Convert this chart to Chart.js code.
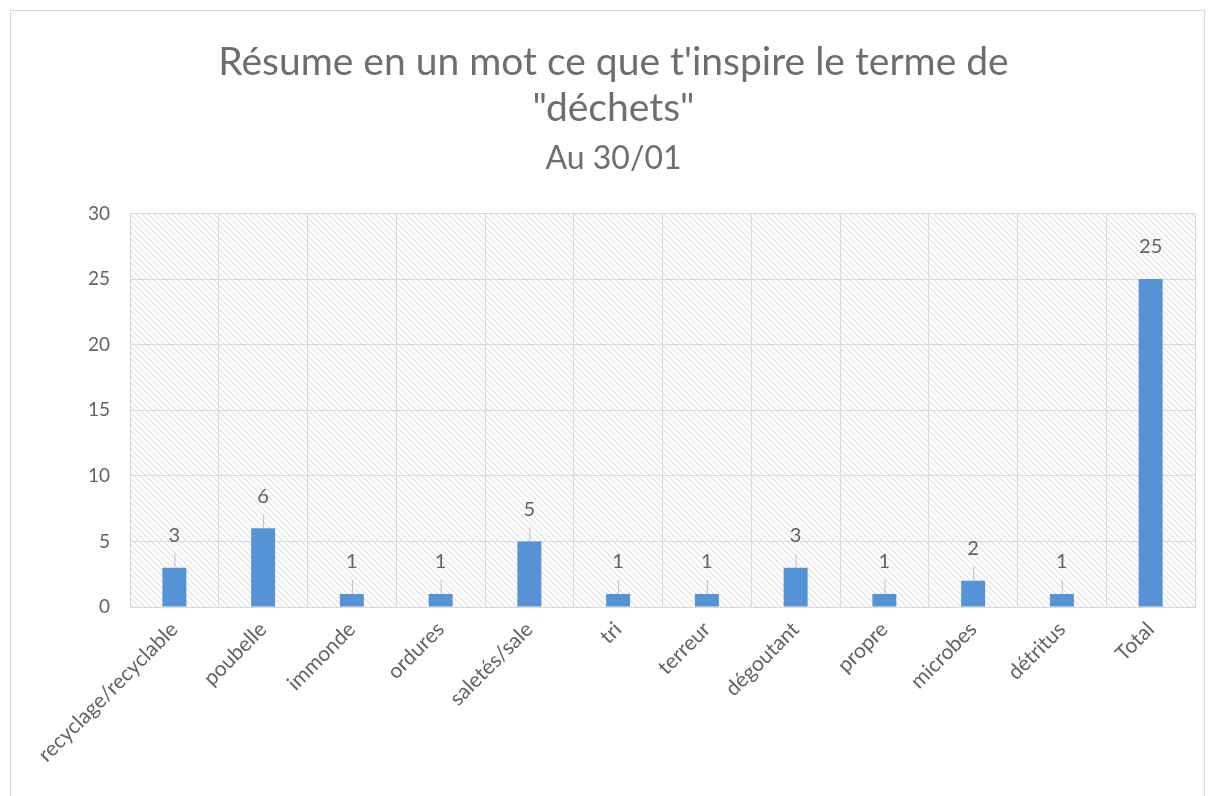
<!DOCTYPE html>
<html>
<head>
<meta charset="utf-8">
<script src="https://cdn.jsdelivr.net/npm/chart.js@4"></script>
<style>
    html, body { margin: 0; padding: 0; background: #fff; }
    #frame {
        position: absolute; left: 10px; top: 10px; width: 1195px; height: 800px;
        border: 1px solid #d9d9d9; box-sizing: border-box;
    }
    #wrap { position: absolute; left: 0; top: 0; width: 1216px; height: 796px; }
</style>
</head>
<body>
<div id="frame"></div>
<div id="wrap"><canvas id="chart"></canvas></div>
<script>
// Chart data
const categories = ['recyclage/recyclable', 'poubelle', 'immonde', 'ordures', 'saletés/sale', 'tri',
    'terreur', 'dégoutant', 'propre', 'microbes', 'détritus', 'Total'];
const counts = [3, 6, 1, 1, 5, 1, 1, 3, 1, 2, 1, 25];
const yTicks = [0, 5, 10, 15, 20, 25, 30];

const TEXT_GREY = '#636363';
const TITLE_GREY = '#6e6e6e';
const FONT = 'Lato, "Open Sans", sans-serif';

// Diagonal hatch for the plot background
function makeHatch() {
    const c = document.createElement('canvas');
    c.width = 6; c.height = 6;
    const g = c.getContext('2d');
    g.fillStyle = '#ffffff';
    g.fillRect(0, 0, 6, 6);
    g.strokeStyle = '#e0e0e0';
    g.lineWidth = 1.2;
    g.beginPath();
    g.moveTo(0, 0); g.lineTo(6, 6);
    g.moveTo(-3, 3); g.lineTo(3, 9);
    g.moveTo(3, -3); g.lineTo(9, 3);
    g.stroke();
    return g.createPattern(c, 'repeat');
}

const hatchPlugin = {
    id: 'hatch',
    beforeDraw(chart) {
        const { ctx, chartArea: a } = chart;
        ctx.save();
        ctx.fillStyle = makeHatch();
        ctx.fillRect(a.left, a.top, a.right - a.left, a.bottom - a.top);
        ctx.restore();
    }
};

// Value labels with a short leader line above each bar
const labelPlugin = {
    id: 'valueLabels',
    afterDatasetsDraw(chart) {
        const { ctx } = chart;
        const meta = chart.getDatasetMeta(0);
        ctx.save();
        meta.data.forEach((bar, i) => {
            if (i < meta.data.length - 1) {
                ctx.strokeStyle = '#bfbfbf';
                ctx.lineWidth = 1;
                ctx.beginPath();
                ctx.moveTo(bar.x + 0.5, bar.y);
                ctx.lineTo(bar.x + 0.5, bar.y - 14);
                ctx.stroke();
            }
            ctx.fillStyle = TEXT_GREY;
            ctx.font = '20px ' + FONT;
            ctx.textAlign = 'center';
            ctx.textBaseline = 'middle';
            ctx.fillText(String(counts[i]), bar.x, bar.y - 32);
        });
        ctx.restore();
    }
};

new Chart(document.getElementById('chart'), {
    type: 'bar',
    data: {
        labels: categories,
        datasets: [{
            data: counts,
            backgroundColor: '#5593d6',
            borderWidth: 0,
            barPercentage: 0.27,
            categoryPercentage: 1
        }]
    },
    options: {
        responsive: true,
        maintainAspectRatio: false,
        animation: false,
        layout: { padding: { left: 32, right: 21, top: 39, bottom: 0 } },
        plugins: {
            legend: { display: false },
            tooltip: { enabled: false },
            title: {
                display: true,
                text: ['Résume en un mot ce que t\'inspire le terme de', '"déchets"'],
                color: TITLE_GREY,
                font: { family: FONT, size: 39, weight: 'normal', lineHeight: 1.18 },
                padding: { top: 0, bottom: 8 }
            },
            subtitle: {
                display: true,
                text: 'Au 30/01',
                color: TITLE_GREY,
                font: { family: FONT, size: 32, weight: 'normal', lineHeight: 1.2 },
                padding: { top: 0, bottom: 36 }
            }
        },
        scales: {
            x: {
                grid: { color: '#d9d9d9', drawTicks: false, offset: true },
                border: { color: '#d9d9d9' },
                ticks: {
                    color: TEXT_GREY,
                    font: { family: FONT, size: 21 },
                    minRotation: 45,
                    maxRotation: 45,
                    padding: 10,
                    autoSkip: false
                },
                afterFit(scale) { scale.height = 189; }
            },
            y: {
                min: 0,
                max: 30,
                afterBuildTicks(scale) { scale.ticks = yTicks.map(v => ({ value: v })); },
                grid: { color: '#d9d9d9', drawTicks: false },
                border: { display: false },
                ticks: {
                    color: TEXT_GREY,
                    font: { family: FONT, size: 19 },
                    padding: 20
                },
                afterFit(scale) { scale.width = 98; }
            }
        }
    },
    plugins: [hatchPlugin, labelPlugin]
});
</script>
</body>
</html>
